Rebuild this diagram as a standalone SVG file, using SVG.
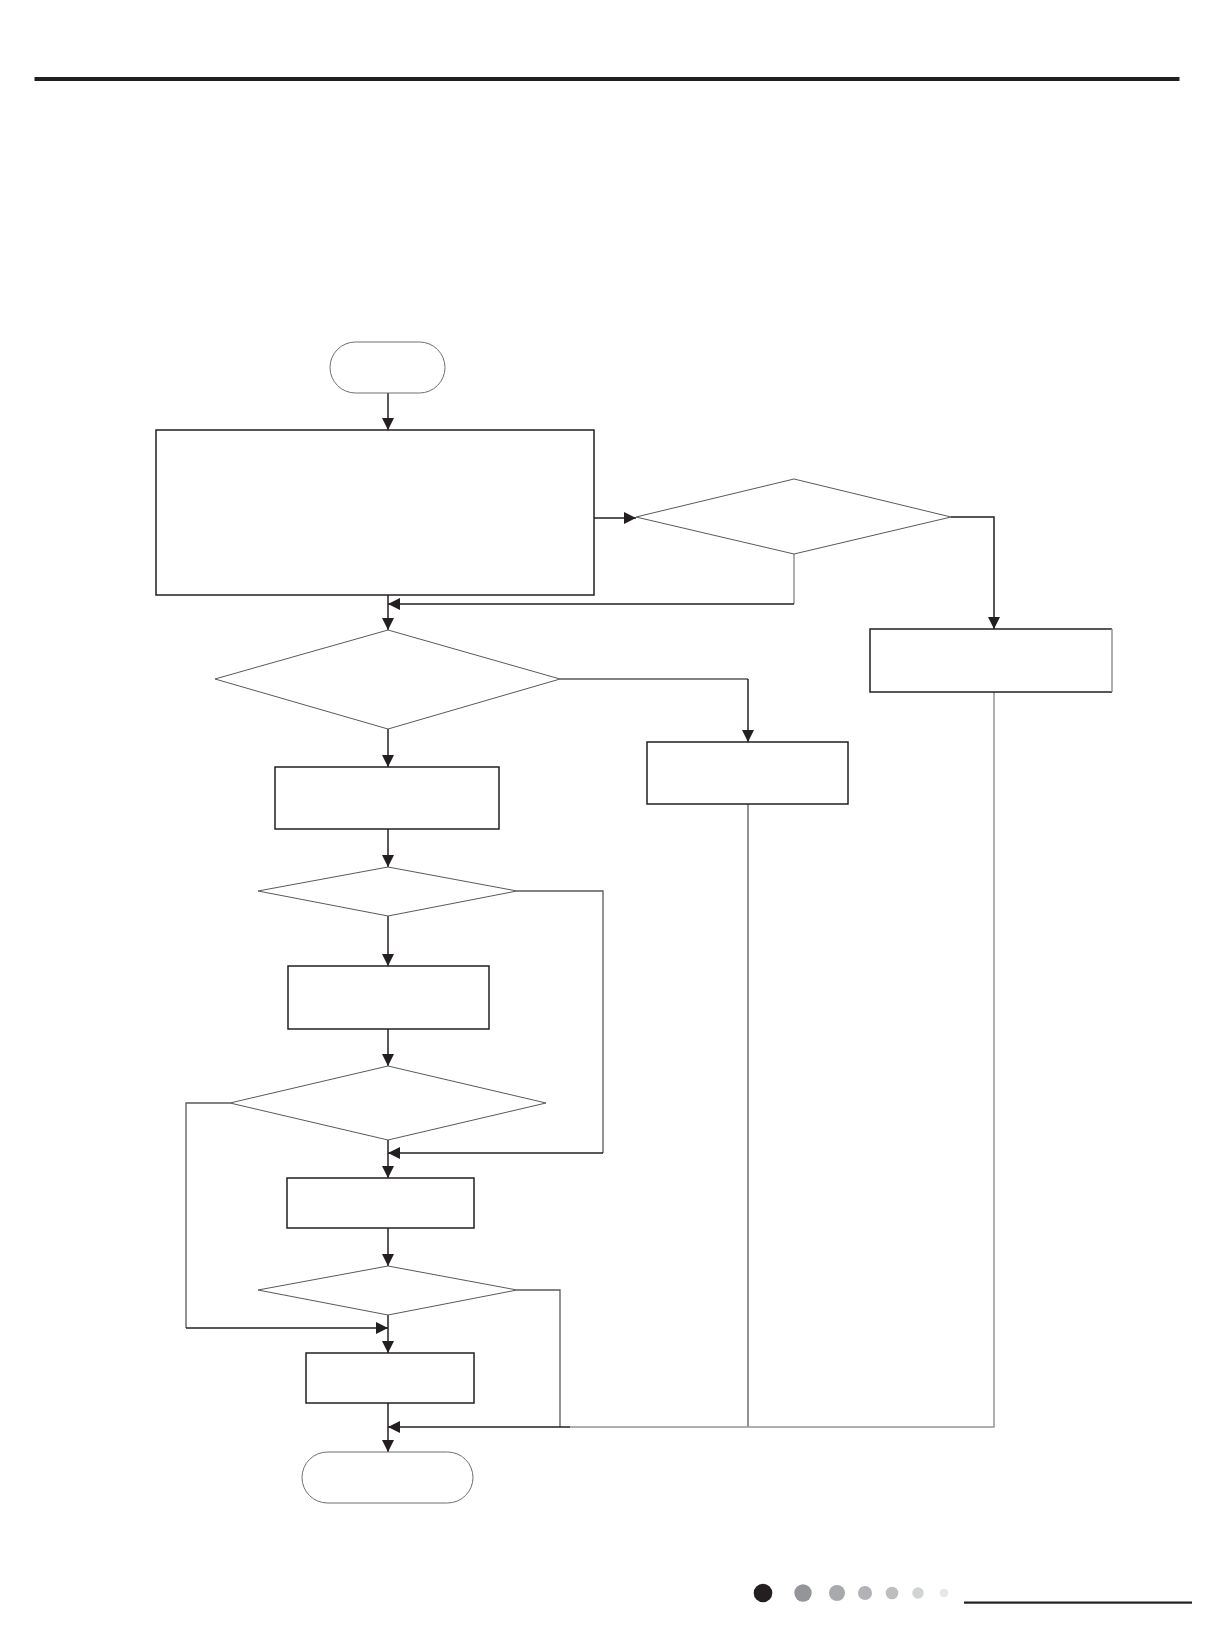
<svg xmlns="http://www.w3.org/2000/svg" width="1213" height="1644" viewBox="0 0 1213 1644">
<style>
.box{fill:#fff;stroke:#231f20;stroke-width:1.5}
.dia{fill:#fff;stroke:#58595b;stroke-width:1}
.term{fill:#fff;stroke:#6d6e71;stroke-width:1}
.c{fill:none;stroke:#231f20;stroke-width:1.5}
.g{fill:none;stroke:#58595b;stroke-width:1.3}
.lg{fill:none;stroke:#939598;stroke-width:1.5}
</style>
<defs>
<marker id="ah" viewBox="0 0 12 12" refX="12" refY="6" markerWidth="12" markerHeight="12" markerUnits="userSpaceOnUse" orient="auto">
<path d="M0,0 L12,6 L0,12 z" fill="#231f20"/>
</marker>
</defs>
<rect x="34.5" y="77" width="1145" height="4" fill="#231f20"/>
<g id="connectors">
<path class="c" d="M388,393 V430" marker-end="url(#ah)"/>
<path class="c" d="M594,518 H636" marker-end="url(#ah)"/>
<path class="lg" d="M794,554 V604"/>
<path class="c" d="M794,604 H388" marker-end="url(#ah)"/>
<path class="c" d="M388,595 V630" marker-end="url(#ah)"/>
<path class="c" d="M951,517 H994 V629" marker-end="url(#ah)"/>
<path class="c" d="M388,729 V767" marker-end="url(#ah)"/>
<path class="g" d="M560,679 H748"/>
<path class="c" d="M748,679 V742" marker-end="url(#ah)"/>
<path class="c" d="M388,829 V867" marker-end="url(#ah)"/>
<path class="c" d="M388,916 V966" marker-end="url(#ah)"/>
<path class="g" d="M517,891 H603 V1153"/>
<path class="c" d="M603,1153 H388" marker-end="url(#ah)"/>
<path class="c" d="M388,1029 V1066" marker-end="url(#ah)"/>
<path class="c" d="M388,1140 V1178" marker-end="url(#ah)"/>
<path class="g" d="M230,1103 H186 V1328"/>
<path class="c" d="M186,1328 H388" marker-end="url(#ah)"/>
<path class="c" d="M388,1228 V1266" marker-end="url(#ah)"/>
<path class="c" d="M388,1315 V1353" marker-end="url(#ah)"/>
<path class="g" d="M517,1290 H560 V1427"/>
<path class="c" d="M570,1427 H388" marker-end="url(#ah)"/>
<path class="g" d="M748,804 V1427"/>
<path class="lg" d="M994,692 V1427 H570"/>
<path class="c" d="M388,1403 V1452" marker-end="url(#ah)"/>
</g>
<g id="start"><rect class="term" x="330" y="342" width="115" height="51" rx="25.5"/></g>
<g id="init"><rect class="box" x="156" y="430" width="438" height="165"/></g>
<g id="d1"><polygon class="dia" points="794,479 951,517 794,554 636,517"/></g>
<g id="rbox"><path class="box" d="M1112,692 H870 V629 H1112"/><path class="lg" d="M1112,629 V692"/></g>
<g id="d2"><polygon class="dia" points="388,630 560,679 388,729 215,679"/></g>
<g id="mbox"><rect class="box" x="647" y="742" width="201" height="62"/></g>
<g id="b2"><rect class="box" x="275" y="767" width="224" height="62"/></g>
<g id="d3"><polygon class="dia" points="388,867 517,891 388,916 258,891"/></g>
<g id="b3"><rect class="box" x="288" y="966" width="201" height="63"/></g>
<g id="d4"><polygon class="dia" points="388,1066 546,1103 388,1140 230,1103"/></g>
<g id="b4"><rect class="box" x="287" y="1178" width="187" height="50"/></g>
<g id="d5"><polygon class="dia" points="388,1266 517,1290 388,1315 258,1290"/></g>
<g id="b5"><rect class="box" x="306" y="1353" width="168" height="50"/></g>
<g id="end"><rect class="term" x="302" y="1452" width="171" height="51" rx="25.5"/></g>
<g id="footer">
<circle cx="763" cy="1593" r="9.3" fill="#231f20"/>
<circle cx="803" cy="1593" r="8.7" fill="#939598"/>
<circle cx="837" cy="1593" r="8" fill="#a7a9ac"/>
<circle cx="865" cy="1593" r="7" fill="#b1b3b6"/>
<circle cx="892" cy="1593" r="6.3" fill="#bcbec0"/>
<circle cx="918" cy="1593" r="5.7" fill="#d1d3d4"/>
<circle cx="944" cy="1593" r="4.3" fill="#e6e7e8"/>
<rect x="964" y="1601.5" width="228" height="2.2" fill="#231f20"/>
</g>
</svg>
